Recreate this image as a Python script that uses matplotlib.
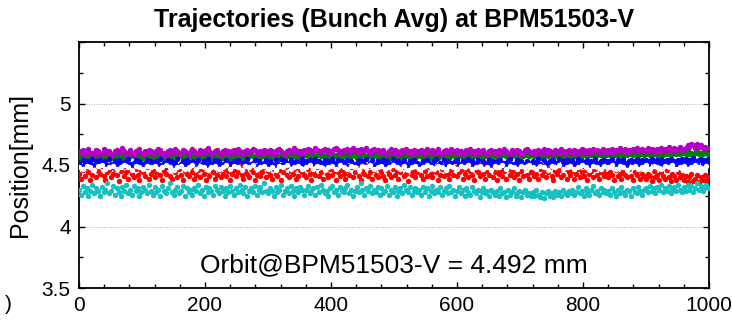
import numpy as np
import matplotlib
matplotlib.use("Agg")
import matplotlib.pyplot as plt
from matplotlib.ticker import MultipleLocator

plt.rcParams['font.family'] = ['Liberation Sans', 'DejaVu Sans']

# Bunch-averaged vertical position per turn, one reading every 3 turns
magenta_pos = [
    4.61,4.60,4.62,4.59,4.61,4.63,4.60,4.60,4.58,4.62,4.61,4.59,4.60,4.63,4.62,4.60,4.61,4.59,4.58,4.61,
    4.62,4.60,4.61,4.64,4.61,4.59,4.60,4.62,4.60,4.58,4.61,4.62,4.63,4.60,4.59,4.61,4.60,4.62,4.61,4.59,
    4.60,4.61,4.63,4.62,4.59,4.60,4.58,4.61,4.62,4.60,4.61,4.63,4.61,4.59,4.60,4.62,4.61,4.60,4.58,4.61,
    4.63,4.61,4.60,4.59,4.62,4.61,4.60,4.62,4.64,4.61,4.59,4.60,4.61,4.62,4.60,4.58,4.61,4.62,4.60,4.61,
    4.59,4.61,4.62,4.60,4.63,4.61,4.60,4.59,4.61,4.62,4.60,4.61,4.63,4.62,4.60,4.59,4.61,4.60,4.62,4.61,
    4.60,4.62,4.61,4.59,4.60,4.62,4.63,4.61,4.60,4.58,4.61,4.62,4.60,4.61,4.64,4.62,4.60,4.61,4.59,4.62,
    4.61,4.63,4.62,4.60,4.61,4.64,4.62,4.61,4.60,4.62,4.63,4.61,4.62,4.60,4.61,4.63,4.64,4.62,4.60,4.61,
    4.62,4.61,4.63,4.60,4.62,4.64,4.61,4.62,4.60,4.63,4.61,4.62,4.64,4.61,4.60,4.62,4.63,4.61,4.62,4.60,
    4.61,4.62,4.60,4.59,4.61,4.63,4.60,4.62,4.61,4.59,4.60,4.62,4.61,4.63,4.60,4.61,4.59,4.62,4.60,4.61,
    4.60,4.62,4.61,4.59,4.63,4.61,4.60,4.62,4.60,4.61,4.63,4.60,4.59,4.61,4.62,4.60,4.61,4.63,4.61,4.60,
    4.62,4.60,4.61,4.59,4.60,4.62,4.61,4.63,4.60,4.61,4.59,4.62,4.60,4.61,4.62,4.60,4.58,4.61,4.62,4.60,
    4.61,4.59,4.62,4.60,4.61,4.63,4.61,4.60,4.59,4.62,4.61,4.60,4.62,4.61,4.59,4.60,4.62,4.63,4.61,4.60,
    4.60,4.61,4.59,4.62,4.60,4.61,4.63,4.60,4.62,4.61,4.59,4.60,4.62,4.61,4.60,4.63,4.61,4.59,4.61,4.62,
    4.61,4.60,4.62,4.61,4.59,4.61,4.63,4.62,4.60,4.61,4.62,4.60,4.63,4.61,4.62,4.60,4.61,4.63,4.62,4.60,
    4.62,4.61,4.63,4.60,4.62,4.61,4.64,4.62,4.61,4.63,4.60,4.62,4.61,4.63,4.62,4.64,4.61,4.62,4.63,4.61,
    4.62,4.64,4.61,4.63,4.62,4.60,4.63,4.62,4.64,4.61,4.63,4.62,4.65,4.63,4.61,4.64,4.62,4.63,4.65,4.62,
    4.63,4.64,4.66,4.65,4.67,4.66,4.64,4.67,4.65,4.66,4.64,4.65,4.63,4.64,
]

green_pos = [
    4.57,4.56,4.58,4.57,4.55,4.57,4.58,4.56,4.57,4.59,4.56,4.57,4.55,4.58,4.57,4.56,4.58,4.57,4.56,4.57,
    4.58,4.56,4.57,4.55,4.57,4.58,4.56,4.57,4.59,4.57,4.56,4.58,4.57,4.55,4.57,4.56,4.58,4.57,4.56,4.58,
    4.56,4.57,4.58,4.56,4.57,4.55,4.58,4.57,4.56,4.58,4.57,4.59,4.56,4.57,4.58,4.56,4.57,4.55,4.57,4.58,
    4.57,4.56,4.58,4.57,4.59,4.56,4.57,4.58,4.56,4.57,4.55,4.58,4.57,4.56,4.58,4.57,4.56,4.57,4.59,4.57,
    4.56,4.58,4.57,4.56,4.57,4.58,4.55,4.57,4.58,4.56,4.57,4.59,4.57,4.56,4.58,4.57,4.56,4.58,4.57,4.56,
    4.57,4.58,4.56,4.57,4.59,4.57,4.56,4.58,4.57,4.55,4.57,4.58,4.56,4.57,4.58,4.57,4.59,4.56,4.57,4.58,
    4.58,4.57,4.59,4.57,4.58,4.56,4.58,4.59,4.57,4.58,4.56,4.58,4.57,4.59,4.58,4.57,4.58,4.56,4.58,4.57,
    4.57,4.58,4.56,4.58,4.57,4.59,4.57,4.56,4.58,4.57,4.59,4.58,4.56,4.57,4.58,4.57,4.59,4.57,4.56,4.58,
    4.57,4.56,4.58,4.57,4.55,4.57,4.58,4.56,4.57,4.58,4.57,4.56,4.58,4.57,4.59,4.56,4.57,4.58,4.56,4.57,
    4.58,4.57,4.56,4.58,4.57,4.59,4.56,4.57,4.58,4.57,4.56,4.58,4.57,4.55,4.57,4.58,4.56,4.57,4.59,4.57,
    4.56,4.58,4.57,4.56,4.58,4.57,4.59,4.57,4.56,4.58,4.57,4.58,4.56,4.57,4.59,4.57,4.58,4.56,4.57,4.58,
    4.57,4.58,4.56,4.57,4.59,4.58,4.57,4.56,4.58,4.57,4.59,4.57,4.58,4.56,4.58,4.57,4.59,4.58,4.57,4.58,
    4.58,4.57,4.59,4.57,4.58,4.56,4.58,4.59,4.57,4.58,4.57,4.59,4.58,4.57,4.59,4.58,4.56,4.58,4.59,4.57,
    4.58,4.59,4.57,4.58,4.60,4.58,4.57,4.59,4.58,4.57,4.59,4.58,4.60,4.57,4.58,4.59,4.58,4.57,4.59,4.58,
    4.59,4.58,4.60,4.58,4.59,4.57,4.59,4.60,4.58,4.59,4.58,4.60,4.59,4.58,4.60,4.59,4.57,4.59,4.60,4.58,
    4.59,4.60,4.58,4.59,4.61,4.59,4.58,4.60,4.59,4.58,4.60,4.59,4.61,4.58,4.59,4.60,4.59,4.61,4.59,4.60,
    4.60,4.59,4.61,4.59,4.60,4.58,4.60,4.61,4.59,4.60,4.59,4.61,4.60,4.59,
]

blue_pos = [
    4.52,4.49,4.54,4.51,4.53,4.48,4.52,4.55,4.50,4.53,4.51,4.54,4.49,4.52,4.53,4.50,4.55,4.51,4.48,4.53,
    4.51,4.54,4.50,4.52,4.49,4.53,4.55,4.51,4.48,4.52,4.54,4.50,4.53,4.51,4.49,4.52,4.54,4.50,4.53,4.51,
    4.49,4.53,4.51,4.55,4.50,4.52,4.48,4.54,4.51,4.53,4.50,4.52,4.55,4.49,4.51,4.53,4.50,4.54,4.52,4.48,
    4.53,4.50,4.52,4.54,4.49,4.51,4.53,4.50,4.55,4.52,4.48,4.51,4.54,4.50,4.53,4.51,4.49,4.52,4.54,4.50,
    4.52,4.48,4.53,4.51,4.54,4.50,4.52,4.49,4.53,4.55,4.51,4.50,4.52,4.54,4.49,4.53,4.51,4.48,4.52,4.54,
    4.50,4.53,4.51,4.49,4.54,4.52,4.50,4.55,4.51,4.53,4.49,4.52,4.54,4.50,4.51,4.53,4.48,4.52,4.55,4.51,
    4.53,4.51,4.54,4.50,4.52,4.55,4.51,4.53,4.49,4.52,4.54,4.50,4.53,4.51,4.55,4.52,4.50,4.54,4.51,4.53,
    4.50,4.52,4.54,4.49,4.53,4.51,4.48,4.52,4.54,4.50,4.53,4.51,4.55,4.49,4.52,4.54,4.50,4.51,4.53,4.49,
    4.52,4.54,4.50,4.53,4.49,4.51,4.55,4.52,4.50,4.53,4.48,4.52,4.54,4.51,4.49,4.53,4.51,4.54,4.50,4.52,
    4.51,4.49,4.53,4.50,4.54,4.52,4.48,4.51,4.53,4.55,4.50,4.52,4.49,4.54,4.51,4.53,4.50,4.52,4.48,4.53,
    4.54,4.51,4.49,4.53,4.50,4.52,4.55,4.51,4.53,4.49,4.52,4.54,4.50,4.51,4.53,4.48,4.52,4.54,4.50,4.53,
    4.50,4.53,4.51,4.54,4.49,4.52,4.50,4.53,4.55,4.51,4.49,4.52,4.54,4.50,4.53,4.51,4.48,4.53,4.52,4.50,
    4.53,4.50,4.52,4.55,4.51,4.49,4.54,4.52,4.50,4.53,4.51,4.54,4.49,4.52,4.55,4.50,4.53,4.51,4.54,4.52,
    4.51,4.54,4.50,4.52,4.55,4.51,4.53,4.49,4.52,4.54,4.50,4.53,4.51,4.55,4.52,4.50,4.53,4.51,4.54,4.52,
    4.53,4.51,4.55,4.52,4.50,4.54,4.51,4.53,4.55,4.52,4.50,4.53,4.54,4.51,4.53,4.55,4.52,4.50,4.54,4.52,
    4.54,4.51,4.53,4.55,4.52,4.50,4.54,4.52,4.55,4.51,4.53,4.54,4.52,4.55,4.51,4.53,4.50,4.54,4.52,4.55,
    4.53,4.55,4.51,4.54,4.52,4.56,4.53,4.51,4.54,4.55,4.52,4.54,4.53,4.55,
]

# White trace, one reading every 6 turns
white_pos = [
    4.48,4.47,4.49,4.48,4.46,4.49,4.50,4.47,4.48,4.49,4.47,4.48,4.50,4.48,4.46,4.49,4.48,4.47,4.49,4.48,
    4.49,4.47,4.48,4.50,4.48,4.46,4.48,4.49,4.47,4.48,4.50,4.47,4.49,4.48,4.46,4.48,4.49,4.47,4.48,4.50,
    4.47,4.49,4.48,4.46,4.49,4.48,4.50,4.47,4.48,4.49,4.47,4.48,4.46,4.49,4.48,4.50,4.47,4.48,4.49,4.47,
    4.48,4.50,4.47,4.49,4.48,4.46,4.48,4.49,4.47,4.50,4.48,4.47,4.49,4.48,4.46,4.49,4.48,4.50,4.47,4.48,
    4.49,4.47,4.48,4.50,4.48,4.47,4.49,4.46,4.48,4.49,4.47,4.48,4.50,4.48,4.47,4.49,4.48,4.46,4.49,4.48,
    4.47,4.49,4.48,4.50,4.47,4.48,4.49,4.47,4.48,4.46,4.49,4.48,4.50,4.47,4.49,4.48,4.47,4.49,4.48,4.50,
    4.48,4.47,4.49,4.48,4.46,4.49,4.48,4.50,4.47,4.48,4.49,4.47,4.48,4.50,4.48,4.46,4.49,4.48,4.47,4.49,
    4.48,4.50,4.47,4.49,4.48,4.46,4.48,4.49,4.47,4.48,4.50,4.47,4.49,4.48,4.47,4.49,4.48,4.50,4.47,4.48,
    4.49,4.47,4.48,4.50,4.48,4.47,4.49,
]

red_pos = [
    4.43,4.39,4.46,4.41,4.48,4.44,4.38,4.42,4.47,4.40,4.45,4.43,4.49,4.41,4.38,4.44,4.46,4.40,4.43,4.47,
    4.42,4.37,4.45,4.48,4.41,4.44,4.39,4.46,4.43,4.40,4.47,4.42,4.38,4.45,4.44,4.41,4.48,4.39,4.43,4.46,
    4.40,4.44,4.47,4.42,4.38,4.45,4.43,4.49,4.41,4.39,4.46,4.44,4.40,4.47,4.42,4.38,4.45,4.43,4.41,4.48,
    4.44,4.39,4.42,4.46,4.40,4.47,4.43,4.38,4.45,4.41,4.48,4.44,4.39,4.42,4.46,4.40,4.43,4.47,4.41,4.45,
    4.38,4.43,4.46,4.41,4.44,4.49,4.42,4.39,4.45,4.43,4.40,4.47,4.44,4.38,4.42,4.46,4.41,4.44,4.48,4.40,
    4.45,4.42,4.39,4.47,4.43,4.41,4.46,4.38,4.44,4.48,4.42,4.40,4.45,4.43,4.47,4.39,4.41,4.46,4.44,4.42,
    4.40,4.47,4.43,4.38,4.45,4.42,4.48,4.41,4.44,4.39,4.46,4.43,4.40,4.47,4.42,4.45,4.38,4.44,4.41,4.46,
    4.43,4.39,4.46,4.42,4.48,4.40,4.44,4.47,4.41,4.38,4.45,4.43,4.49,4.41,4.44,4.39,4.46,4.42,4.40,4.47,
    4.44,4.41,4.38,4.46,4.43,4.40,4.47,4.42,4.45,4.39,4.44,4.48,4.41,4.43,4.37,4.46,4.42,4.45,4.40,4.44,
    4.47,4.42,4.39,4.45,4.41,4.48,4.43,4.40,4.46,4.44,4.38,4.42,4.47,4.41,4.45,4.43,4.39,4.46,4.42,4.48,
    4.41,4.44,4.46,4.39,4.43,4.47,4.40,4.45,4.42,4.38,4.46,4.44,4.41,4.48,4.43,4.39,4.45,4.42,4.47,4.40,
    4.44,4.38,4.43,4.46,4.41,4.45,4.39,4.47,4.42,4.44,4.40,4.46,4.43,4.38,4.45,4.41,4.48,4.42,4.39,4.44,
    4.46,4.41,4.43,4.39,4.47,4.42,4.45,4.40,4.44,4.48,4.41,4.38,4.45,4.43,4.46,4.40,4.42,4.47,4.39,4.44,
    4.42,4.45,4.39,4.43,4.47,4.40,4.44,4.41,4.46,4.38,4.43,4.45,4.40,4.47,4.42,4.39,4.44,4.46,4.41,4.43,
    4.40,4.44,4.42,4.38,4.46,4.41,4.43,4.39,4.45,4.42,4.40,4.47,4.41,4.38,4.44,4.42,4.46,4.39,4.43,4.41,
    4.39,4.43,4.41,4.37,4.45,4.40,4.42,4.38,4.44,4.41,4.39,4.46,4.40,4.37,4.43,4.41,4.38,4.44,4.40,4.42,
    4.38,4.41,4.36,4.40,4.43,4.37,4.39,4.42,4.36,4.40,4.38,4.42,4.37,4.40,
]

cyan_pos = [
    4.30,4.26,4.33,4.28,4.31,4.25,4.29,4.34,4.27,4.31,4.29,4.25,4.32,4.28,4.30,4.35,4.27,4.29,4.33,4.26,
    4.31,4.28,4.25,4.32,4.29,4.34,4.27,4.30,4.26,4.33,4.29,4.31,4.25,4.28,4.32,4.30,4.27,4.34,4.29,4.26,
    4.32,4.28,4.30,4.25,4.33,4.29,4.27,4.31,4.35,4.28,4.26,4.30,4.32,4.27,4.29,4.33,4.25,4.31,4.28,4.30,
    4.26,4.31,4.29,4.34,4.27,4.30,4.25,4.32,4.28,4.31,4.29,4.26,4.33,4.30,4.27,4.32,4.29,4.25,4.31,4.28,
    4.33,4.29,4.26,4.31,4.28,4.34,4.30,4.27,4.32,4.25,4.29,4.31,4.28,4.33,4.26,4.30,4.32,4.28,4.35,4.29,
    4.27,4.31,4.29,4.25,4.32,4.28,4.30,4.34,4.26,4.29,4.31,4.27,4.33,4.29,4.25,4.31,4.28,4.32,4.30,4.26,
    4.30,4.33,4.27,4.29,4.31,4.26,4.32,4.28,4.34,4.30,4.27,4.29,4.25,4.31,4.33,4.28,4.30,4.26,4.32,4.29,
    4.28,4.31,4.34,4.27,4.30,4.25,4.29,4.32,4.28,4.35,4.30,4.26,4.31,4.29,4.33,4.27,4.30,4.28,4.32,4.26,
    4.31,4.27,4.29,4.33,4.26,4.30,4.28,4.32,4.25,4.29,4.31,4.27,4.34,4.30,4.28,4.32,4.26,4.29,4.31,4.28,
    4.30,4.26,4.32,4.28,4.31,4.25,4.29,4.33,4.27,4.30,4.28,4.32,4.26,4.29,4.31,4.27,4.33,4.28,4.30,4.25,
    4.29,4.32,4.27,4.30,4.25,4.31,4.28,4.26,4.32,4.29,4.27,4.30,4.24,4.28,4.31,4.27,4.29,4.25,4.30,4.28,
    4.26,4.29,4.25,4.31,4.27,4.28,4.24,4.30,4.26,4.28,4.31,4.25,4.27,4.29,4.24,4.28,4.30,4.26,4.27,4.25,
    4.28,4.25,4.30,4.26,4.24,4.28,4.23,4.27,4.29,4.25,4.27,4.24,4.29,4.26,4.28,4.25,4.30,4.27,4.26,4.29,
    4.27,4.30,4.26,4.28,4.32,4.27,4.29,4.25,4.31,4.28,4.26,4.30,4.33,4.27,4.29,4.26,4.31,4.28,4.30,4.27,
    4.29,4.26,4.31,4.28,4.25,4.30,4.27,4.32,4.28,4.26,4.30,4.29,4.25,4.31,4.28,4.27,4.32,4.29,4.26,4.30,
    4.31,4.28,4.33,4.29,4.31,4.27,4.32,4.30,4.34,4.28,4.31,4.29,4.33,4.27,4.30,4.32,4.29,4.34,4.30,4.28,
    4.32,4.29,4.34,4.30,4.33,4.28,4.31,4.35,4.30,4.33,4.29,4.32,4.34,4.31,
]

orbit_value = 4.492
x_ticks = [0, 200, 400, 600, 800, 1000]
y_ticks = [3.5, 4.0, 4.5, 5.0, 5.5]
y_tick_labels = ['3.5', '4', '4.5', '5', '']

turns = np.arange(0, 1000, 3)
turns_white = np.arange(0, 1000, 6)

fig = plt.figure(figsize=(7.32, 3.2), dpi=100)
ax = fig.add_axes([79 / 732, 1 - 288 / 320, 630 / 732, 246 / 320])

series = [
    (turns, green_pos, '#008000'),
    (turns, magenta_pos, '#b400c4'),
    (turns, blue_pos, '#0000ff'),
    (turns, red_pos, '#ff0000'),
    (turns_white, white_pos, '#ffffff'),
    (turns, cyan_pos, '#18c0c0'),
]
for xs, ys, col in series:
    ax.plot(xs, ys, 'o', ms=3.9, mew=0, color=col, zorder=3)

ax.set_xlim(0, 1000)
ax.set_ylim(3.5, 5.5)
ax.set_xticks(x_ticks)
ax.set_xticklabels([str(t) for t in x_ticks])
ax.set_yticks(y_ticks)
ax.set_yticklabels(y_tick_labels)
ax.xaxis.set_minor_locator(MultipleLocator(40))
ax.yaxis.set_minor_locator(MultipleLocator(0.25))
ax.tick_params(which='both', direction='in', top=True, right=True,
               labelsize=15, width=1.0, color='black')
ax.tick_params(which='major', length=4.5, pad=6)
ax.tick_params(which='minor', length=2.8)
for sp in ax.spines.values():
    sp.set_linewidth(1.3)

ax.yaxis.grid(True, which='major', linestyle=(0, (1, 1.5)), color='#b0b0b0', linewidth=0.7)
ax.set_axisbelow(True)

ax.set_ylabel('Position[mm]', fontsize=18, labelpad=7)
ax.set_title('Trajectories (Bunch Avg) at BPM51503-V', fontsize=18,
             fontweight='bold', pad=11)
ax.text(0.5, 0.093, f'Orbit@BPM51503-V = {orbit_value:.3f} mm', transform=ax.transAxes,
        ha='center', va='center', fontsize=19, zorder=5)

fig.text(8 / 732, 1 - 304 / 320, ')', ha='center', va='center', fontsize=15)

fig.savefig('out.png', dpi=100)
